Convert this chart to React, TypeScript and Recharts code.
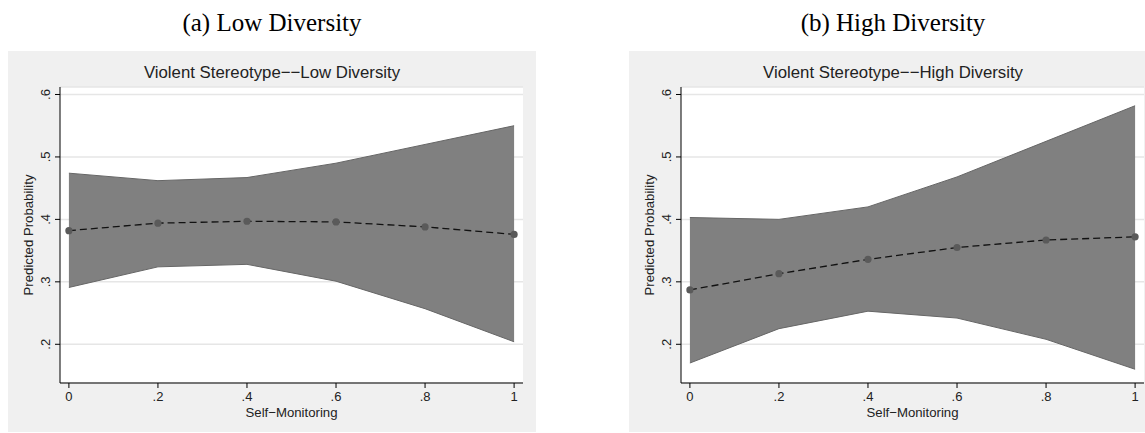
import { ComposedChart, Area, Line, XAxis, YAxis, CartesianGrid } from 'recharts';

const SELF_MON = [0, 0.2, 0.4, 0.6, 0.8, 1];

const LOW_P = [0.382, 0.394, 0.397, 0.396, 0.388, 0.376];
const LOW_LO = [0.291, 0.324, 0.328, 0.301, 0.257, 0.204];
const LOW_HI = [0.474, 0.462, 0.467, 0.49, 0.52, 0.55];

const HIGH_P = [0.287, 0.313, 0.336, 0.355, 0.367, 0.372];
const HIGH_LO = [0.17, 0.225, 0.253, 0.242, 0.208, 0.16];
const HIGH_HI = [0.403, 0.4, 0.42, 0.468, 0.525, 0.582];

const X_TICKS = [0, 0.2, 0.4, 0.6, 0.8, 1];
const Y_TICKS = [0.2, 0.3, 0.4, 0.5, 0.6];

const SANS = '"Liberation Sans", Arial, sans-serif';
const SERIF = '"Liberation Serif", "Times New Roman", serif';

// façon Stata : 0 et 1 tels quels, sinon sans le zéro de tête (.2, .4 ...)
const fmt = (v: number) => (v === 0 || v === 1 ? String(v) : String(+v.toFixed(2)).replace(/^0/, ''));

function YTick({ x, y, payload }: any) {
  return (
    <text x={x} y={y} transform={`rotate(-90, ${x}, ${y})`} textAnchor="middle" fontSize={13} fill="#222" fontFamily={SANS}>
      {fmt(payload.value)}
    </text>
  );
}

function Panel({ left, caption, title, p, lo, hi }: {
  left: number; caption: string; title: string; p: number[]; lo: number[]; hi: number[];
}) {
  const rows = SELF_MON.map((x, i) => ({ x, p: p[i], band: [lo[i], hi[i]] }));
  return (
    <>
      <div style={{ position: 'absolute', left, top: 8, width: 528, textAlign: 'center', fontFamily: SERIF, fontSize: 25, lineHeight: '30px', color: '#000' }}>
        {caption}
      </div>
      <div style={{ position: 'absolute', left, top: 51, width: 528, height: 381, background: '#f0f0f0' }}>
        <div style={{ position: 'absolute', left: 0, top: 12, width: 528, textAlign: 'center', fontFamily: SANS, fontSize: 16.8, lineHeight: '20px', color: '#222' }}>
          {title}
        </div>
        <ComposedChart width={528} height={381} data={rows} margin={{ top: 36, right: 13, left: 0, bottom: 0 }}>
          <CartesianGrid vertical={false} stroke="#e6e6e6" strokeWidth={1.5} fill="#fff" fillOpacity={1} />
          <XAxis
            dataKey="x" type="number" domain={[-0.02, 1.02]} ticks={X_TICKS} interval={0} allowDataOverflow
            height={49} tickSize={5} tickMargin={4} stroke="#000" tickFormatter={fmt}
            tick={{ fontSize: 13, fill: '#222', fontFamily: SANS }}
            label={{
              content: ({ viewBox }: any) => (
                <text x={viewBox.x + viewBox.width / 2} y={viewBox.y + 29} textAnchor="middle" dominantBaseline="central" fontSize={13.2} fill="#222" fontFamily={SANS}>
                  Self−Monitoring
                </text>
              ),
            }}
          />
          <YAxis
            type="number" domain={[0.138, 0.612]} ticks={Y_TICKS} interval={0} allowDataOverflow
            width={52} tickSize={5} tickMargin={5} stroke="#000" tick={<YTick />}
            label={{
              content: ({ viewBox }: any) => {
                const cx = viewBox.x + 20;
                const cy = viewBox.y + viewBox.height / 2;
                return (
                  <text x={cx} y={cy} transform={`rotate(-90, ${cx}, ${cy})`} textAnchor="middle" dominantBaseline="central" fontSize={13.2} fill="#222" fontFamily={SANS}>
                    Predicted Probability
                  </text>
                );
              },
            }}
          />
          <Area dataKey="band" type="linear" fill="#808080" fillOpacity={1} stroke="#666" strokeWidth={1} dot={false} activeDot={false} isAnimationActive={false} />
          <Line dataKey="p" type="linear" stroke="#111" strokeWidth={1.3} strokeDasharray="7 4" dot={{ r: 3.6, fill: '#5a5a5a', stroke: 'none' }} activeDot={false} isAnimationActive={false} />
        </ComposedChart>
      </div>
    </>
  );
}

export default function App() {
  return (
    <div style={{ position: 'fixed', left: 0, top: 0, width: 1145, height: 433, overflow: 'hidden', background: '#fff' }}>
      <Panel left={8} caption="(a) Low Diversity" title="Violent Stereotype−−Low Diversity" p={LOW_P} lo={LOW_LO} hi={LOW_HI} />
      <Panel left={629} caption="(b) High Diversity" title="Violent Stereotype−−High Diversity" p={HIGH_P} lo={HIGH_LO} hi={HIGH_HI} />
    </div>
  );
}
